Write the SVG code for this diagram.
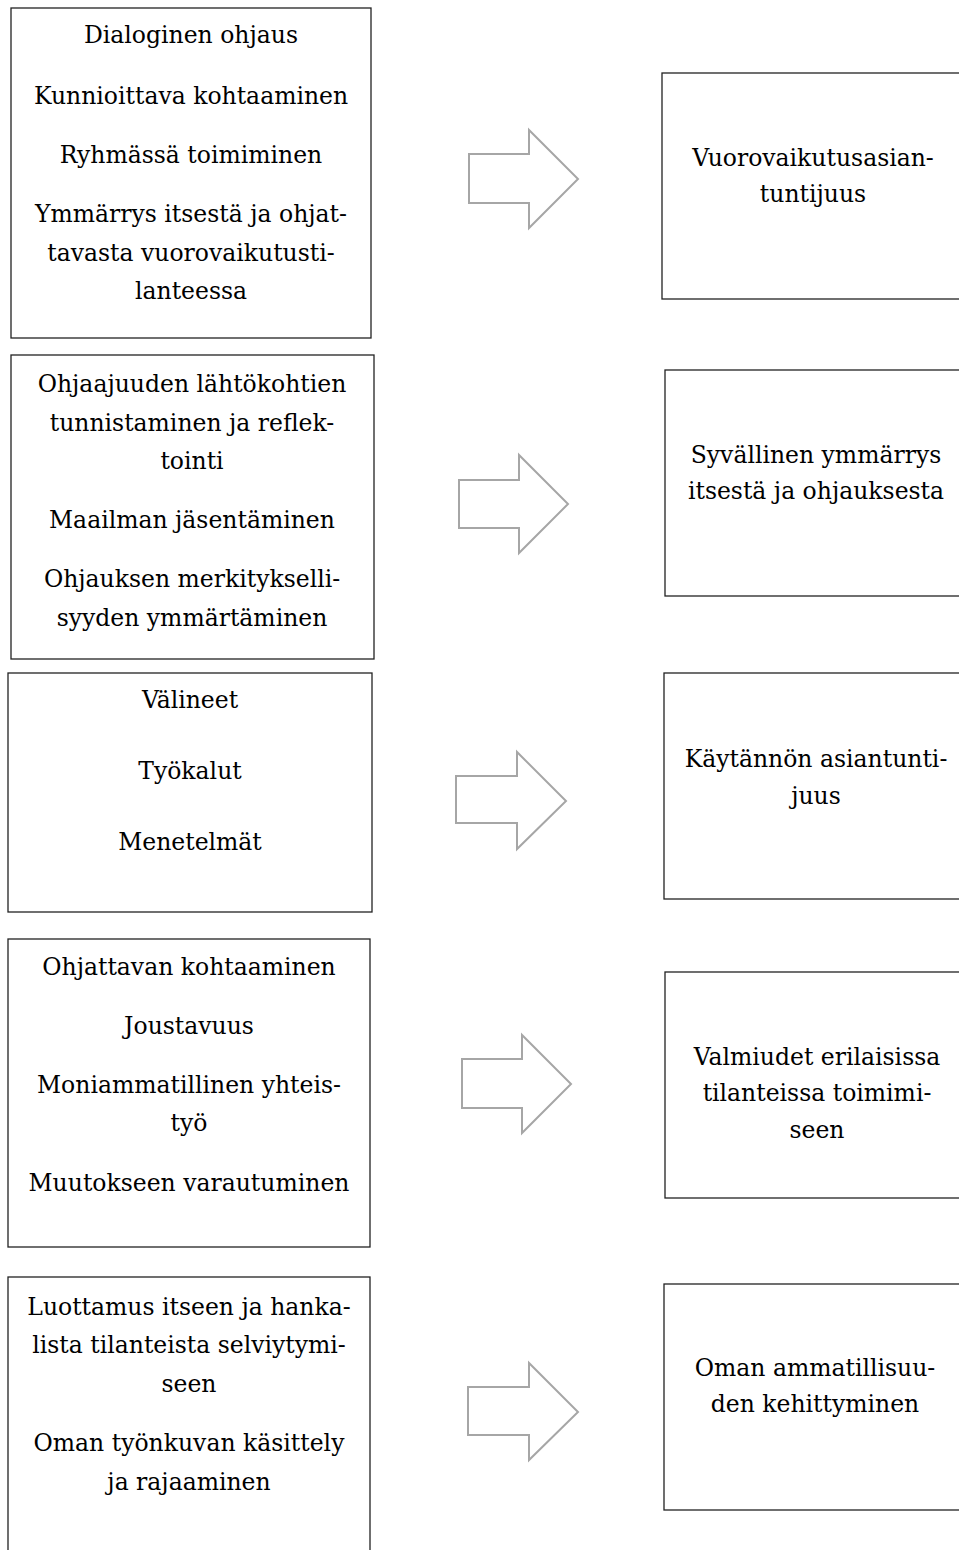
<svg xmlns="http://www.w3.org/2000/svg" width="959" height="1550" viewBox="0 0 959 1550">
<style>
.box{fill:#fff;stroke:#222;stroke-width:1.3}
.arr{fill:#fff;stroke:#a6a6a6;stroke-width:2;stroke-linejoin:miter}
text{font-family:"DejaVu Serif","Liberation Serif",serif;font-size:23.5px;fill:#000;text-anchor:middle}
</style>
<rect width="959" height="1550" fill="#fff"/>
<g id="connectors">
<polygon class="arr" points="469,154 529,154 529,130 578,179 529,228 529,203 469,203"/>
<polygon class="arr" points="459,480 519,480 519,455 568,504 519,553 519,528 459,528"/>
<polygon class="arr" points="456,776 517,776 517,752 566,801 517,849 517,823 456,823"/>
<polygon class="arr" points="462,1059 522,1059 522,1035 571,1084 522,1133 522,1108 462,1108"/>
<polygon class="arr" points="468,1387 529,1387 529,1363 578,1412 529,1460 529,1435 468,1435"/>
</g>
<g id="left1">
<rect class="box" x="11" y="8" width="360" height="330"/>
<text x="191" y="43">Dialoginen ohjaus</text>
<text x="191" y="104">Kunnioittava kohtaaminen</text>
<text x="191" y="163">Ryhmässä toimiminen</text>
<text x="191" y="222">Ymmärrys itsestä ja ohjat-</text>
<text x="191" y="261">tavasta vuorovaikutusti-</text>
<text x="191" y="299">lanteessa</text>
</g>
<g id="left2">
<rect class="box" x="11" y="355" width="363" height="304"/>
<text x="192" y="392">Ohjaajuuden lähtökohtien</text>
<text x="192" y="431">tunnistaminen ja reflek-</text>
<text x="192" y="469">tointi</text>
<text x="192" y="528">Maailman jäsentäminen</text>
<text x="192" y="587">Ohjauksen merkitykselli-</text>
<text x="192" y="626">syyden ymmärtäminen</text>
</g>
<g id="left3">
<rect class="box" x="8" y="673" width="364" height="239"/>
<text x="190" y="708">Välineet</text>
<text x="190" y="779">Työkalut</text>
<text x="190" y="850">Menetelmät</text>
</g>
<g id="left4">
<rect class="box" x="8" y="939" width="362" height="308"/>
<text x="189" y="975">Ohjattavan kohtaaminen</text>
<text x="189" y="1034">Joustavuus</text>
<text x="189" y="1093">Moniammatillinen yhteis-</text>
<text x="189" y="1131">työ</text>
<text x="189" y="1191">Muutokseen varautuminen</text>
</g>
<g id="left5">
<rect class="box" x="8" y="1277" width="362" height="290"/>
<text x="189" y="1315">Luottamus itseen ja hanka-</text>
<text x="189" y="1353">lista tilanteista selviytymi-</text>
<text x="189" y="1392">seen</text>
<text x="189" y="1451">Oman työnkuvan käsittely</text>
<text x="189" y="1490">ja rajaaminen</text>
</g>
<g id="right1">
<rect class="box" x="662" y="73" width="304" height="226"/>
<text x="813" y="166">Vuorovaikutusasian-</text>
<text x="813" y="202">tuntijuus</text>
</g>
<g id="right2">
<rect class="box" x="665" y="370" width="302" height="226"/>
<text x="816" y="463">Syvällinen ymmärrys</text>
<text x="816" y="499">itsestä ja ohjauksesta</text>
</g>
<g id="right3">
<rect class="box" x="664" y="673" width="302" height="226"/>
<text x="816" y="767">Käytännön asiantunti-</text>
<text x="816" y="804">juus</text>
</g>
<g id="right4">
<rect class="box" x="665" y="972" width="302" height="226"/>
<text x="817" y="1065">Valmiudet erilaisissa</text>
<text x="817" y="1101">tilanteissa toimimi-</text>
<text x="817" y="1138">seen</text>
</g>
<g id="right5">
<rect class="box" x="664" y="1284" width="302" height="226"/>
<text x="815" y="1376">Oman ammatillisuu-</text>
<text x="815" y="1412">den kehittyminen</text>
</g>
</svg>
